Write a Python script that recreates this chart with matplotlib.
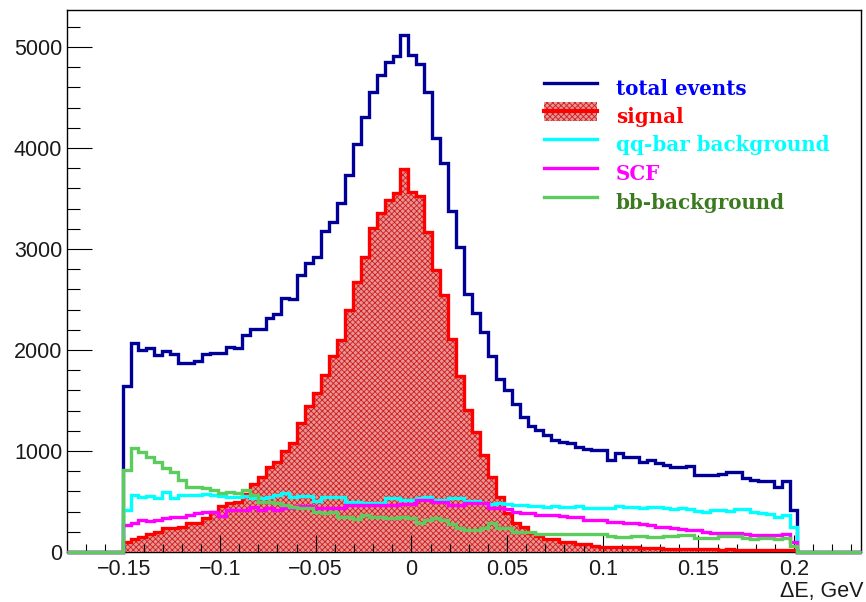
import numpy as np
import matplotlib
matplotlib.use("Agg")
import matplotlib.pyplot as plt
from matplotlib.lines import Line2D
from matplotlib.patches import Rectangle

# ---------------- data (bin contents) ----------------
x_min, x_max, n_axis_bins = -0.18, 0.235, 100
first_bin = 7  # first filled bin starts at -0.15

total = [1640, 2072, 2000, 2023, 1950, 1990, 1957, 1868, 1868, 1891,
         1957, 1967, 1975, 2033, 2017, 2149, 2205, 2205, 2314, 2356,
         2512, 2500, 2743, 2858, 2924, 3181, 3271, 3452, 3733, 4040,
         4310, 4558, 4723, 4855, 4911, 5119, 4921, 4828, 4558, 4102,
         3848, 3379, 3015, 2558, 2366, 2178, 1945, 1710, 1600, 1468,
         1340, 1245, 1212, 1163, 1112, 1092, 1076, 1043, 1024, 1010,
         1010, 911, 983, 944, 945, 894, 911, 884, 861, 838,
         840, 850, 765, 765, 765, 775, 790, 790, 730, 713,
         705, 700, 640, 700, 415]

signal = [96, 126, 152, 178, 201, 234, 234, 251, 284, 284,
          340, 399, 455, 482, 498, 574, 673, 740, 838, 894,
          1003, 1082, 1274, 1446, 1577, 1750, 1941, 2099, 2396, 2677,
          2924, 3205, 3353, 3485, 3551, 3789, 3568, 3525, 3172, 2792,
          2545, 2106, 1743, 1406, 1191, 960, 746, 548, 383, 284,
          251, 185, 158, 126, 126, 102, 100, 79, 79, 55,
          50, 52, 48, 53, 50, 40, 38, 35, 30, 30,
          28, 30, 26, 25, 25, 24, 25, 22, 22, 20,
          20, 18, 18, 16, 15]

qqbar = [416, 564, 548, 552, 531, 597, 531, 564, 564, 564,
         574, 564, 552, 548, 541, 552, 531, 531, 548, 564,
         587, 548, 552, 552, 508, 548, 541, 541, 498, 498,
         488, 488, 488, 531, 531, 515, 515, 531, 541, 515,
         515, 531, 531, 508, 508, 488, 478, 488, 480, 470,
         462, 458, 455, 450, 452, 445, 448, 460, 440, 435,
         438, 432, 455, 448, 445, 440, 450, 445, 432, 425,
         432, 430, 405, 400, 420, 415, 410, 425, 422, 400,
         385, 380, 350, 365, 250]

scf = [267, 290, 317, 310, 317, 333, 350, 343, 366, 389,
       395, 395, 356, 416, 416, 416, 449, 416, 432, 416,
       432, 432, 455, 455, 440, 432, 432, 432, 462, 470,
       470, 470, 470, 462, 462, 478, 478, 510, 510, 495,
       495, 470, 470, 485, 485, 485, 440, 440, 430, 399,
       390, 383, 366, 366, 366, 360, 350, 350, 317, 317,
       317, 300, 300, 284, 284, 277, 270, 251, 251, 234,
       225, 220, 215, 195, 190, 185, 184, 184, 175, 172,
       170, 170, 168, 180, 102]

bbbar = [812, 1027, 993, 937, 894, 828, 795, 713, 647, 640,
         630, 614, 581, 597, 581, 614, 564, 498, 498, 482,
         465, 449, 432, 432, 399, 383, 399, 350, 350, 323,
         366, 350, 343, 333, 333, 343, 333, 284, 317, 333,
         317, 277, 234, 218, 218, 234, 284, 234, 234, 201,
         201, 201, 180, 175, 178, 182, 176, 178, 175, 180,
         176, 156, 152, 150, 155, 158, 150, 152, 155, 160,
         165, 165, 140, 138, 142, 160, 162, 158, 135, 132,
         136, 134, 130, 135, 60]

legend_labels = ["total events", "signal", "qq-bar background", "SCF", "bb-background"]

# ---------------- figure ----------------
W, H = 866, 602
fig = plt.figure(figsize=(W / 100, H / 100), dpi=100)
ax = fig.add_axes([67 / W, 1 - 552 / H, (861 - 67) / W, (552 - 10) / H])

edges = np.linspace(x_min, x_max, n_axis_bins + 1)


def full(vals):
    a = np.zeros(n_axis_bins)
    a[first_bin:first_bin + len(vals)] = vals
    return a


lw = 2.4
c_total = "#000099"
c_sig = "#ff0000"
c_qq = "#00ffff"
c_scf = "#ff00ff"
c_bb = "#5ccc5c"
fill_face = "#e69494"
fill_hatch = "#d01c1c"

plt.rcParams["hatch.linewidth"] = 0.6

ax.stairs(full(total), edges, color=c_total, lw=lw, zorder=3, clip_on=False, baseline=None)
ax.stairs(full(signal), edges, fill=True, facecolor=fill_face, edgecolor=fill_hatch,
          hatch="xxxxxx", lw=0, zorder=1)
ax.stairs(full(signal), edges, color=c_sig, lw=lw, zorder=4, clip_on=False, baseline=None)
ax.stairs(full(qqbar), edges, color=c_qq, lw=lw, zorder=5, clip_on=False, baseline=None)
ax.stairs(full(scf), edges, color=c_scf, lw=lw, zorder=6, clip_on=False, baseline=None)
ax.stairs(full(bbbar), edges, color=c_bb, lw=lw, zorder=7, clip_on=False, baseline=None)

ax.set_xlim(x_min, x_max)
ax.set_ylim(0, 5366)

ax.set_xticks(np.arange(-0.15, 0.2001, 0.05))
ax.set_xticks(np.arange(-0.17, 0.2301, 0.01), minor=True)
ax.set_xticklabels(["\u22120.15", "\u22120.1", "\u22120.05", "0", "0.05", "0.1", "0.15", "0.2"])
ax.set_yticks(np.arange(0, 5001, 1000))
ax.set_yticks(np.arange(0, 5366, 200), minor=True)

tick_font = "Liberation Sans"
for lab in ax.get_xticklabels() + ax.get_yticklabels():
    lab.set_fontfamily(tick_font)
    lab.set_fontsize(15.5)
    lab.set_color("#1a1a1a")

ax.tick_params(axis="x", which="major", direction="in", length=12.2, width=0.8, pad=5,
               top=False)
ax.tick_params(axis="x", which="minor", direction="in", length=6.1, width=0.8, top=False)
ax.tick_params(axis="y", which="major", direction="in", length=18, width=0.8, pad=3.5,
               right=False)
ax.tick_params(axis="y", which="minor", direction="in", length=9, width=0.8, right=False)
for s in ax.spines.values():
    s.set_linewidth(1.0)
    s.set_zorder(0.5)

fig.text(863 / W, 1 - 597 / H, "\u0394E, GeV", ha="right", va="baseline",
         fontfamily=tick_font, fontsize=15.5, color="#1a1a1a")

# ---------------- legend (drawn manually, ROOT style) ----------------
leg_y = [82.7, 110.7, 139.3, 167.7, 196.7]
leg_cols = [c_total, c_sig, c_qq, c_scf, c_bb]
txt_cols = ["#0000ff", "#ff0000", "#00ffff", "#ff00ff", "#3b7a1e"]
x0, x1, xt = 544 / W, 597 / W, 616 / W
# hatched box for signal
fig.add_artist(Rectangle((x0, 1 - 121 / H), x1 - x0, (121 - 101.5) / H,
                         transform=fig.transFigure, facecolor=fill_face,
                         edgecolor=fill_hatch, hatch="xxxxxx", lw=0))
for yy, lc, tc, lab in zip(leg_y, leg_cols, txt_cols, legend_labels):
    fy = 1 - yy / H
    fig.add_artist(Line2D([x0, x1], [fy, fy], transform=fig.transFigure,
                          color=lc, lw=lw + (0.6 if lab == "signal" else 0)))
    fig.text(xt, 1 - (yy + 12) / H, lab, ha="left", va="baseline",
             fontfamily="DejaVu Serif", fontweight="bold", fontsize=14.3, color=tc)

fig.savefig("out.png", dpi=100)
